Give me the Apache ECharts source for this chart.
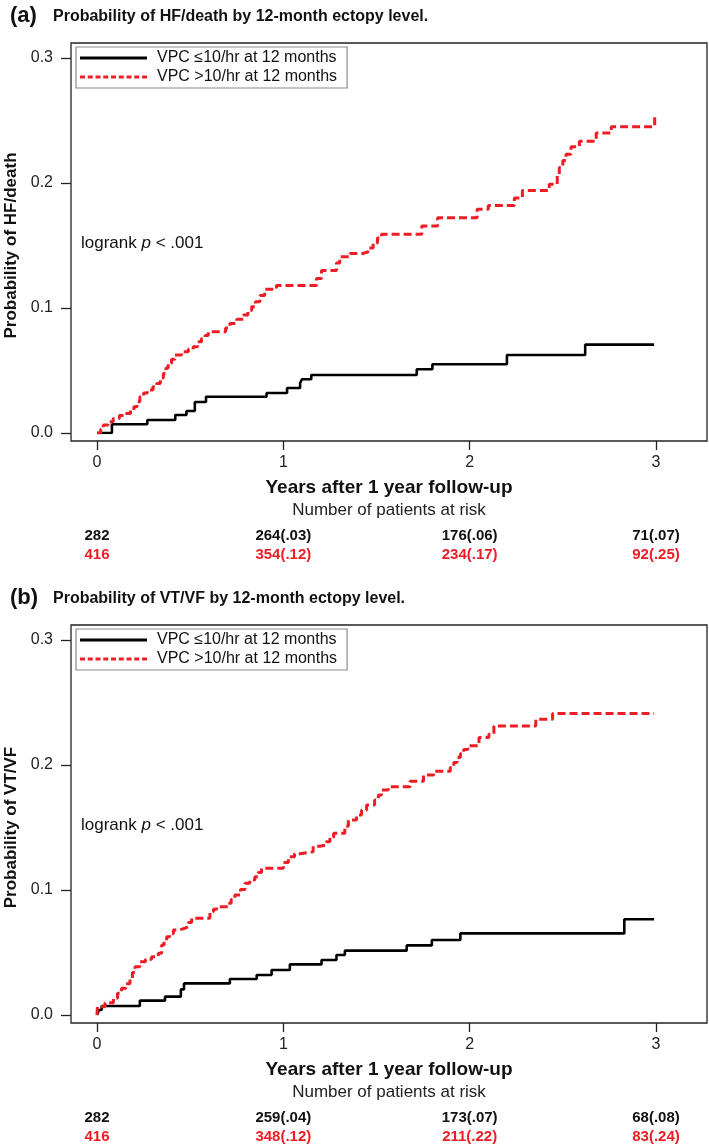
<!DOCTYPE html>
<html>
<head>
<meta charset="utf-8">
<script src="https://cdn.jsdelivr.net/npm/echarts@6/dist/echarts.min.js"></script>
<style>
  html, body { margin: 0; padding: 0; background: #fff; }
  #chart { width: 709px; height: 1145px; }
</style>
</head>
<body>
<div id="chart"></div>
<script>
// ---- data: [years, cumulative probability] ----
const hfLow = [[0, 0], [0.08, 0.007], [0.27, 0.0104], [0.42, 0.0144], [0.48, 0.0176], [0.525, 0.0248],
  [0.585, 0.029], [0.91, 0.032], [1.02, 0.036], [1.09, 0.04], [1.10, 0.043], [1.15, 0.0464],
  [1.716, 0.051], [1.80, 0.055], [2.2, 0.0624], [2.62, 0.0707], [2.99, 0.0707]]

const hfHigh = [[0, 0], [0.02, 0.003], [0.034, 0.0064], [0.06, 0.009], [0.087, 0.0117], [0.12, 0.014],
  [0.15, 0.0157], [0.18, 0.018], [0.198, 0.021], [0.215, 0.025], [0.23, 0.029], [0.25, 0.032],
  [0.27, 0.0344], [0.3, 0.037], [0.32, 0.0397], [0.34, 0.044], [0.356, 0.0477], [0.37, 0.052],
  [0.382, 0.0557], [0.40, 0.059], [0.418, 0.0624], [0.454, 0.065], [0.49, 0.067], [0.516, 0.069],
  [0.54, 0.073], [0.561, 0.0757], [0.58, 0.078], [0.597, 0.081], [0.69, 0.084], [0.713, 0.0877],
  [0.75, 0.091], [0.785, 0.0944], [0.81, 0.098], [0.83, 0.101], [0.85, 0.105], [0.874, 0.11],
  [0.90, 0.115], [0.963, 0.118], [1.178, 0.1237], [1.205, 0.13], [1.285, 0.136], [1.303, 0.141],
  [1.357, 0.1437], [1.43, 0.145], [1.455, 0.148], [1.482, 0.152], [1.505, 0.156], [1.527, 0.159],
  [1.743, 0.1656], [1.828, 0.1723], [2.04, 0.179], [2.10, 0.182], [2.24, 0.188], [2.283, 0.194],
  [2.427, 0.199], [2.47, 0.206], [2.481, 0.2125], [2.50, 0.218], [2.517, 0.223], [2.544, 0.229],
  [2.589, 0.2334], [2.679, 0.24], [2.76, 0.245], [2.993, 0.2533], [3.0, 0.2533]]

const vtLow = [[0, 0], [0.01, 0.004], [0.025, 0.0072], [0.23, 0.0115], [0.365, 0.0147], [0.45, 0.0205],
  [0.467, 0.0253], [0.713, 0.0288], [0.857, 0.032], [0.937, 0.036], [1.035, 0.0405], [1.205, 0.044],
  [1.285, 0.048], [1.33, 0.0515], [1.662, 0.0557], [1.797, 0.06], [1.95, 0.0653], [2.83, 0.0766],
  [2.99, 0.0766]]

const vtHigh = [[0, 0], [0.002, 0.0067], [0.043, 0.0098], [0.088, 0.0134], [0.11, 0.0174], [0.132, 0.0214],
  [0.155, 0.025], [0.177, 0.0294], [0.19, 0.034], [0.204, 0.0386], [0.23, 0.0426], [0.26, 0.0446],
  [0.293, 0.0466], [0.329, 0.0494], [0.347, 0.056], [0.36, 0.0595], [0.374, 0.0626], [0.39, 0.065],
  [0.41, 0.068], [0.44, 0.0694], [0.472, 0.0706], [0.49, 0.074], [0.508, 0.0774], [0.606, 0.0826],
  [0.625, 0.0846], [0.642, 0.0866], [0.704, 0.0894], [0.72, 0.0925], [0.74, 0.096], [0.77, 0.1005],
  [0.794, 0.1054], [0.82, 0.108], [0.847, 0.1106], [0.865, 0.114], [0.883, 0.1174], [1.0, 0.122],
  [1.027, 0.1266], [1.06, 0.129], [1.088, 0.1306], [1.16, 0.135], [1.196, 0.136], [1.23, 0.1386],
  [1.25, 0.142], [1.27, 0.1454], [1.33, 0.151], [1.349, 0.156], [1.393, 0.16], [1.42, 0.164],
  [1.447, 0.168], [1.49, 0.172], [1.51, 0.176], [1.527, 0.18], [1.563, 0.1826], [1.68, 0.187],
  [1.752, 0.192], [1.807, 0.195], [1.896, 0.198], [1.915, 0.202], [1.932, 0.206], [1.95, 0.209],
  [1.968, 0.2125], [1.99, 0.2155], [2.05, 0.222], [2.103, 0.2246], [2.13, 0.2313], [2.355, 0.2366],
  [2.445, 0.2412], [2.99, 0.2412]]

// numbers at risk (cumulative probability) at 0, 1, 2, 3 years
const riskHfLow = ['282', '264(.03)', '176(.06)', '71(.07)']
const riskHfHigh = ['416', '354(.12)', '234(.17)', '92(.25)']
const riskVtLow = ['282', '259(.04)', '173(.07)', '68(.08)']
const riskVtHigh = ['416', '348(.12)', '211(.22)', '83(.24)']

const yTicks = [0, 0.1, 0.2, 0.3]
const xTicks = [0, 1, 2, 3]

const nameLow = 'VPC ≤10/hr at 12 months'
const nameHigh = 'VPC >10/hr at 12 months'
const RED = '#ee1c24'
const FONT = '"Liberation Sans", Arial, sans-serif'

// legend samples: solid bar and 9 short dashes
const solidIcon = 'path://M0,0H67V3H0Z'
const dashIcon = 'path://' + [0, 1, 2, 3, 4, 5, 6, 7, 8].map(function (i) {
  const x = (i * 7.75).toFixed(2)
  return 'M' + x + ',0h5v3h-5Z'
}).join('')

// panel layout: offset between (a) and (b)
const panelTop = [0, 582]

function mainX (g) {
  return {
    gridIndex: g, type: 'value', min: xTicks[0], max: xTicks[xTicks.length - 1], interval: 1,
    offset: 8,
    axisLine: { show: false, onZero: false },
    axisTick: { length: 9, lineStyle: { color: '#222', width: 1.3 } },
    axisLabel: { margin: 14, fontSize: 16, color: '#222', fontFamily: FONT },
    splitLine: { show: false }
  }
}

function riskX (g, labels, color, offset) {
  return {
    gridIndex: g, type: 'value', min: 0, max: 3, interval: 1, position: 'bottom', offset: offset,
    axisLine: { show: false, onZero: false },
    axisTick: { show: false },
    splitLine: { show: false },
    axisLabel: {
      margin: 0, fontSize: 15, fontWeight: 'bold', color: color, fontFamily: FONT,
      formatter: function (v) { return labels[Math.round(v)] }
    }
  }
}

function mainY (g, name) {
  return {
    gridIndex: g, type: 'value', min: yTicks[0], max: yTicks[yTicks.length - 1], interval: 0.1,
    offset: 26,
    axisLine: { show: false, onZero: false },
    axisTick: { show: true, length: 10, lineStyle: { color: '#222', width: 1.3 } },
    axisLabel: { margin: 18, fontSize: 16, color: '#222', fontFamily: FONT,
      formatter: function (v) { return v.toFixed(1) } },
    splitLine: { show: false },
    name: name,
    nameLocation: 'middle',
    nameGap: 50,
    nameTextStyle: { fontSize: 17, fontWeight: 'bold', color: '#111', fontFamily: FONT }
  }
}

function curve (name, data, xi, yi, high) {
  return {
    name: name, type: 'line', step: 'end', symbol: 'none',
    xAxisIndex: xi, yAxisIndex: yi, data: data,
    itemStyle: { color: high ? RED : '#000' },
    lineStyle: high ? { color: RED, width: 3, type: [8, 4] } : { color: '#000', width: 2.6 }
  }
}

function legendAt (top) {
  return {
    orient: 'vertical', left: 76, top: top,
    data: [{ name: nameLow, icon: solidIcon }, { name: nameHigh, icon: dashIcon }],
    itemWidth: 67, itemHeight: 3, itemGap: 3,
    padding: [3, 10, 3, 4],
    borderColor: '#8a8a8a', borderWidth: 1.2,
    selectedMode: false,
    textStyle: { fontSize: 16, color: '#111', fontFamily: FONT, padding: [0, 0, 0, 5] }
  }
}

function panelText (letter, title, dy) {
  return [
    { type: 'text', left: 10, top: 5 + dy, style: { text: letter, font: 'bold 22px ' + FONT, fill: '#111' } },
    { type: 'text', left: 53, top: 9 + dy, style: { text: title, font: 'bold 16px ' + FONT, fill: '#111' } },
    { type: 'rect', shape: { x: 71, y: 43 + dy, width: 636, height: 398 },
      style: { fill: 'none', stroke: '#222', lineWidth: 1.3 } },
    { type: 'text', x: 81, y: 243 + dy,
      style: { text: 'logrank {i|p} < .001', font: '17px ' + FONT, fill: '#111', verticalAlign: 'middle',
        rich: { i: { fontStyle: 'italic', fontSize: 17, fontFamily: FONT } } } },
    { type: 'text', x: 389, y: 488 + dy,
      style: { text: 'Years after 1 year follow-up', font: 'bold 19px ' + FONT, fill: '#111',
        align: 'center', verticalAlign: 'middle' } },
    { type: 'text', x: 389, y: 510 + dy,
      style: { text: 'Number of patients at risk', font: '17px ' + FONT, fill: '#222',
        align: 'center', verticalAlign: 'middle' } }
  ]
}

const chart = echarts.init(document.getElementById('chart'))
chart.setOption({
  animation: false,
  backgroundColor: '#fff',
  grid: [
    { left: 97, top: 58 + panelTop[0], width: 559, height: 375, outerBoundsMode: 'none' },
    { left: 97, top: 58 + panelTop[1], width: 559, height: 375, outerBoundsMode: 'none' }
  ],
  xAxis: [
    mainX(0), riskX(0, riskHfLow, '#111', 95), riskX(0, riskHfHigh, RED, 114),
    mainX(1), riskX(1, riskVtLow, '#111', 95), riskX(1, riskVtHigh, RED, 114)
  ],
  yAxis: [mainY(0, 'Probability of HF/death'), mainY(1, 'Probability of VT/VF')],
  legend: [legendAt(47 + panelTop[0]), legendAt(47 + panelTop[1])],
  graphic: [].concat(
    panelText('(a)', 'Probability of HF/death by 12-month ectopy level.', panelTop[0]),
    panelText('(b)', 'Probability of VT/VF by 12-month ectopy level.', panelTop[1])
  ),
  series: [
    curve(nameLow, hfLow, 0, 0, false),
    curve(nameHigh, hfHigh, 0, 0, true),
    curve(nameLow, vtLow, 3, 1, false),
    curve(nameHigh, vtHigh, 3, 1, true)
  ]
})
</script>
</body>
</html>
